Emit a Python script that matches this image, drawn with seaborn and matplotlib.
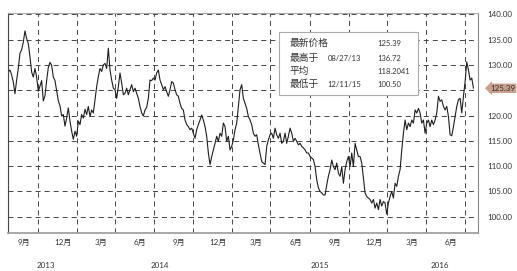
import numpy as np
import pandas as pd
import matplotlib
matplotlib.use("Agg")
import matplotlib.pyplot as plt
import matplotlib.dates as mdates
import matplotlib.transforms as mtransforms
from matplotlib.patches import Rectangle
import seaborn as sns

# price series (roughly every 4 days)
price = [
    128.6, 129.0, 128.0, 126.6, 124.3, 127.0, 129.3, 132.3, 133.0, 134.5,
    136.72, 135.2, 134.2, 131.6, 128.6, 127.6, 129.3, 127.6, 124.8, 125.8,
    126.9, 122.9, 123.9, 126.9, 129.5, 130.5, 129.9, 127.6, 126.9, 124.9,
    122.9, 121.9, 119.9, 120.2, 117.9, 119.5, 121.5, 118.9, 116.9, 115.3,
    116.9, 115.9, 118.9, 118.2, 120.2, 119.5, 121.2, 120.2, 121.8,
    119.8, 121.1, 120.5, 123.1, 125.7, 127.7, 129.3, 128.7, 130.0, 130.3,
    129.3, 133.3, 129.0, 127.0, 125.4, 125.1, 123.4, 125.7, 128.4, 126.4,
    124.1, 124.4, 125.4, 124.1, 125.1, 126.1, 124.7, 125.4, 124.4, 123.4,
    121.8, 120.5, 119.9, 121.1, 121.6, 123.4, 127.0, 126.9, 127.4, 127.0,
    128.4, 129.0, 127.0, 126.1, 125.1, 125.7, 124.7, 123.8, 125.1,
    126.7, 126.4, 125.1, 124.1, 123.8, 122.4, 121.4, 121.1, 119.1, 118.2,
    117.8, 117.2, 117.5, 116.5, 115.5, 117.2, 118.2, 119.1, 120.1, 119.1,
    117.8, 115.9, 112.6, 110.3, 111.9, 113.2, 114.5, 115.9, 114.9, 116.5,
    115.9, 118.5, 117.8, 114.9, 115.9, 113.2, 113.9, 115.2, 117.2, 118.5,
    121.8, 125.1, 126.1, 123.4, 122.4, 121.4, 119.8,
    119.1, 118.2, 116.5, 115.9, 116.2, 114.2, 112.6, 110.9, 110.6, 110.3,
    113.9, 115.2, 116.2, 116.5, 115.5, 117.5, 116.2, 115.5, 116.5, 114.5,
    114.9, 116.5, 114.5, 115.9, 117.5, 116.5, 114.9, 115.5, 114.9, 114.2,
    114.5, 113.9, 113.6, 113.2, 112.6, 112.6, 111.9, 111.6, 111.3, 109.9,
    107.3, 105.7, 105.0, 104.7, 104.3, 104.3, 106.3, 108.0, 109.3,
    111.2, 109.9, 109.3, 110.6, 108.6, 108.0, 109.9, 106.6, 109.3, 110.9,
    111.9, 109.9, 112.6, 109.9, 114.5, 113.2, 111.9, 111.9, 110.6, 107.6,
    104.7, 104.0, 103.7, 103.4, 102.7, 103.4, 101.7, 102.7, 101.4, 103.4,
    102.1, 103.0, 102.7, 100.5, 102.7, 104.0, 105.0, 103.7, 106.6, 106.0,
    108.0, 109.3, 113.2, 116.5, 119.1, 117.2, 118.5, 117.8,
    119.1, 118.5, 121.1, 120.5, 121.4, 120.5, 118.5, 119.1, 116.5, 118.5,
    119.1, 117.8, 119.1, 118.2, 119.1, 120.5, 123.8, 122.8, 123.1, 121.8,
    121.1, 121.8, 119.8, 116.2, 116.0, 117.8, 119.8, 121.8, 123.1, 123.4,
    120.5, 123.8, 126.7, 130.6, 129.0, 127.0, 127.4, 125.39,
]
start_date = "2013-06-23"
end_date = "2016-06-20"

grid_months = ["2013-09-01", "2013-12-01", "2014-03-01", "2014-06-01",
               "2014-09-01", "2014-12-01", "2015-03-01", "2015-06-01",
               "2015-09-01", "2015-12-01", "2016-03-01", "2016-06-01"]
month_labels = ["9月", "12月", "3月", "6月", "9月", "12月",
                "3月", "6月", "9月", "12月", "3月", "6月"]
year_labels = ["2013", "2014", "2015", "2016"]
year_dates = ["2013-09-20", "2014-06-13", "2015-06-24", "2016-04-03"]
y_ticks = [100, 105, 110, 115, 120, 125, 130, 135, 140]

stat_names = ["最新价格", "最高于", "平均", "最低于"]
stat_dates = ["", "08/27/13", "", "12/11/15"]
stat_values = ["125.39", "136.72", "118.2041", "100.50"]
last_price = 125.39

dates = pd.date_range(start_date, end_date, periods=len(price))
df = pd.DataFrame({"date": dates, "price": price})

sns.set_style("white")
plt.rcParams["font.family"] = ["Lato", "Noto Sans CJK SC", "DejaVu Sans"]
plt.rcParams["lines.scale_dashes"] = False

W, H = 517, 271
fig = plt.figure(figsize=(W / 100, H / 100), dpi=100)
ax = fig.add_axes([8.3 / W, 1 - 232.7 / H, 469.4 / W, 219.4 / H])

sns.lineplot(data=df, x="date", y="price", ax=ax, color="#1e1e1e", linewidth=0.8)

ax.set_xlim(pd.Timestamp("2013-06-23"), pd.Timestamp("2016-06-30"))
ax.set_ylim(96.84, 140.2)
ax.set_xlabel("")
ax.set_ylabel("")

# month grid + labels (labels sit a bit left of the gridline)
ax.set_xticks(pd.to_datetime(grid_months))
ax.set_xticklabels(month_labels)
ax.tick_params(axis="x", length=0, pad=4.5, labelsize=5.8, colors="#333333")
shift = mtransforms.ScaledTranslation(-14 / 100, 0, fig.dpi_scale_trans)
for lbl in ax.get_xticklabels():
    lbl.set_transform(lbl.get_transform() + shift)

ax.yaxis.tick_right()
ax.set_yticks(y_ticks)
ax.set_yticklabels([f"{v:.2f}" for v in y_ticks])
ax.tick_params(axis="y", length=0, pad=6.7, labelsize=5.8, colors="#333333")

ax.grid(True, color="#444444", linestyle=(0, (3.6, 2.9)), linewidth=0.7)

ax.spines["left"].set_color("#444444")
ax.spines["left"].set_linewidth(0.8)
ax.spines["bottom"].set_color("#999999")
ax.spines["bottom"].set_linewidth(1.2)
ax.spines["right"].set_color("#888888")
ax.spines["right"].set_linewidth(0.8)
ax.spines["top"].set_color("#aaaaaa")
ax.spines["top"].set_linewidth(0.8)

# year labels
trans_year = mtransforms.blended_transform_factory(ax.transData, fig.transFigure)
for lab, d in zip(year_labels, year_dates):
    ax.text(mdates.date2num(pd.Timestamp(d)), 1 - 266 / H, lab, transform=trans_year,
            ha="center", va="center", fontsize=5.8, color="#333333", clip_on=False)

# stats box
fig.add_artist(Rectangle((279.3 / W, 1 - 95 / H), 139 / W, 62.7 / H,
                         transform=fig.transFigure, facecolor="white",
                         edgecolor="#aaaaaa", linewidth=0.8, zorder=3))
row_y = [43.3, 58.3, 71.7, 84.5]
for name, d, v, yy in zip(stat_names, stat_dates, stat_values, row_y):
    fig.text(289.3 / W, 1 - yy / H, name, fontsize=7, color="#333333",
             va="center", ha="left", zorder=4)
    if d:
        fig.text(327.3 / W, 1 - yy / H, d, fontsize=5.5, color="#333333",
                 va="center", ha="left", zorder=4)
    fig.text(377.5 / W, 1 - yy / H, v, fontsize=5.5, color="#333333",
             va="center", ha="left", zorder=4)

# last price tag
trans_tag = mtransforms.blended_transform_factory(fig.transFigure, ax.transData)
fig.text(490 / W, last_price, f"{last_price:.2f}", transform=trans_tag,
         fontsize=5.8, color="#333333", va="center", ha="left", zorder=5,
         bbox=dict(boxstyle="larrow,pad=0.15", facecolor="#c9a08c", edgecolor="none"))

fig.savefig("out.png", dpi=100)
